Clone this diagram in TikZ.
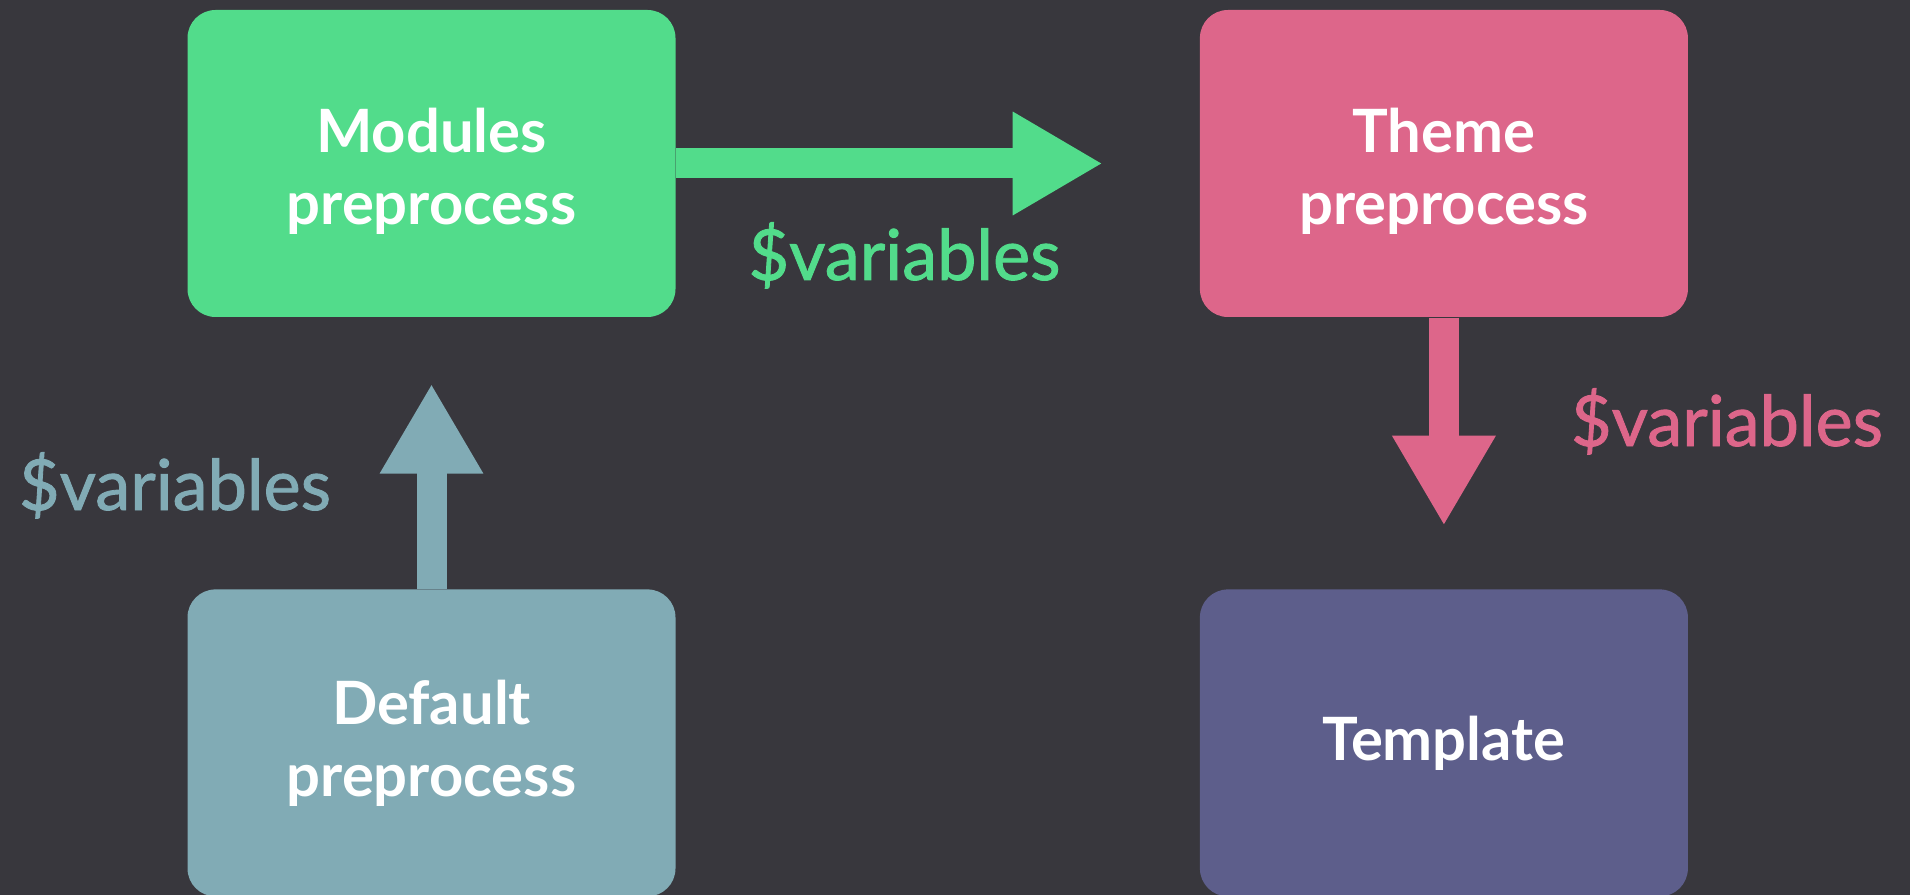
\documentclass[tikz,border=0pt]{standalone}
\usepackage{fontspec}
\setmainfont{Lato}
\newfontfamily\varfont{Lato}[FakeBold=1.2]
\usepackage{tikz}
\usetikzlibrary{positioning,arrows.meta}
\definecolor{bgdark}{HTML}{38373D}
\definecolor{modgreen}{HTML}{52DC8B}
\definecolor{themepink}{HTML}{DD668A}
\definecolor{defblue}{HTML}{81ABB5}
\definecolor{tplpurple}{HTML}{5D5E8B}

\begin{document}
\begin{tikzpicture}[pbox/.style={rounded corners=0.28cm,minimum width=4.88cm,minimum height=3.07cm,
    align=center,text=white,inner sep=0pt,font=\fontsize{17}{20.5}\selectfont\bfseries},
  parrow/.style={line width=0.3cm,-{Triangle[width=0.97cm,length=0.9cm]}},
  pvar/.style={anchor=base,font=\varfont\fontsize{20}{24}\selectfont},
  node distance=2.71cm and 5.23cm]
 \useasboundingbox (0,0) rectangle (19.1,-8.95);
 \fill[bgdark] (0,0) rectangle (19.1,-8.95);
 % boxes
 \node[pbox,fill=modgreen] (MOD) at (4.315,-1.635) {\\[-0.12cm]Modules\\preprocess};
 \node[pbox,fill=themepink,right=of MOD] (THM) {\\[-0.12cm]Theme\\preprocess};
 \node[pbox,fill=defblue,below=of MOD] (DEF) {Default\\preprocess};
 \node[pbox,fill=tplpurple,below=of THM] (TPL) {Template};
 % arrows
 \draw[parrow,modgreen,shorten >=0.965cm] (MOD.east) -- (THM.west);
 \draw[parrow,themepink,shorten >=0.63cm] (THM.south) -- (TPL.north);
 \draw[parrow,defblue,shorten >=0.66cm] (DEF.north) -- (MOD.south);
 % labels
 \node[pvar,text=modgreen] (VMOD) at (9.045,-2.80) {\$variables};
 \node[pvar,text=themepink] (VTHM) at (17.27,-4.46) {\$variables};
 \node[pvar,text=defblue] (VDEF) at (1.75,-5.10) {\$variables};
\end{tikzpicture}
\end{document}
